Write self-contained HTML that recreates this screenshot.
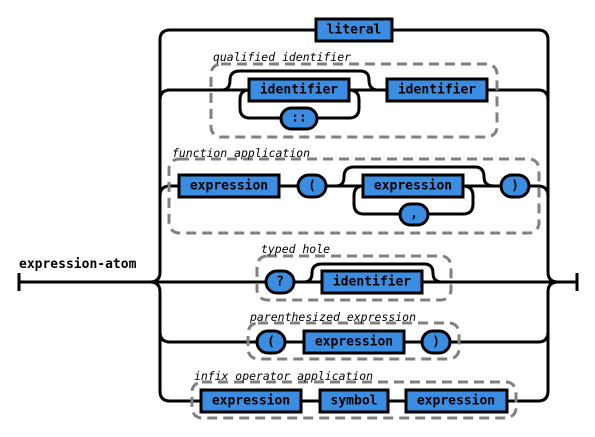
<!DOCTYPE html>
<html><head><meta charset="utf-8"><style>
html,body{margin:0;padding:0;background:#fff;}
svg{display:block}
.l{fill:none;stroke:#000;stroke-width:3}
.d{fill:none;stroke:#808080;stroke-width:3;stroke-dasharray:10 6}
.b{fill:#3a8de0;stroke:#000;stroke-width:3}
.t{font-family:"DejaVu Sans Mono","Liberation Mono",monospace;font-weight:bold;font-size:13px;text-anchor:middle;dominant-baseline:central;fill:#000}
.c{font-family:"DejaVu Sans Mono","Liberation Mono",monospace;font-style:italic;font-size:11.5px;fill:#000}
</style></head><body>
<svg width="595" height="437" viewBox="0 0 595 437">
<path class="l" d="M19 273V291M19 282H577M577 273V291"/>
<path class="l" d="M150 282Q160 282 160 272V40Q160 30 170 30H538Q548 30 548 40V272Q548 282 558 282"/>
<path class="l" d="M150 282Q160 282 160 292V391Q160 401 170 401H538Q548 401 548 391V292Q548 282 558 282"/>
<path class="l" d="M160 100Q160 90 170 90H538Q548 90 548 100"/>
<path class="l" d="M160 196Q160 186 170 186H538Q548 186 548 196"/>
<path class="l" d="M160 332Q160 342 170 342H538Q548 342 548 332"/>
<path class="l" d="M222 90Q230 90 230 80Q230 71 240 71H360Q369 71 369 80Q369 90 378 90"/>
<path class="l" d="M249 90Q240 90 240 100V108Q240 118 250 118H349Q359 118 359 108V100Q359 90 349 90"/>
<path class="l" d="M336 186Q344 186 344 177Q344 167 354 167H475Q484 167 484 177Q484 186 494 186"/>
<path class="l" d="M363 186Q354 186 354 196V204Q354 214 364 214H463Q473 214 473 204V196Q473 186 463 186"/>
<path class="l" d="M304 282Q312 282 312 273Q312 264 322 264H424Q433 264 433 273Q433 282 442 282"/>
<rect class="d" x="211" y="64" width="286" height="73" rx="10"/>
<rect class="d" x="169" y="159" width="370" height="74" rx="10"/>
<rect class="d" x="257" y="256" width="194" height="44" rx="10"/>
<rect class="d" x="248" y="323" width="211" height="36" rx="10"/>
<rect class="d" x="192" y="382" width="324" height="36" rx="10"/>
<text class="c" x="213" y="61" textLength="138" lengthAdjust="spacingAndGlyphs">qualified identifier</text>
<text class="c" x="172" y="157" textLength="138" lengthAdjust="spacingAndGlyphs">function application</text>
<text class="c" x="261" y="253" textLength="69" lengthAdjust="spacingAndGlyphs">typed hole</text>
<text class="c" x="250" y="321" textLength="166" lengthAdjust="spacingAndGlyphs">parenthesized expression</text>
<text class="c" x="194" y="380" textLength="179" lengthAdjust="spacingAndGlyphs">infix operator application</text>
<text x="19" y="268" style="font-family:'DejaVu Sans Mono','Liberation Mono',monospace;font-weight:bold;font-size:13px">expression-atom</text>
<rect class="b" x="316" y="19" width="76" height="22"/><text class="t" x="354" y="30">literal</text>
<rect class="b" x="249" y="79" width="100" height="22"/><text class="t" x="299" y="90">identifier</text>
<rect class="b" x="387" y="79" width="100" height="22"/><text class="t" x="437" y="90">identifier</text>
<rect class="b" x="281" y="108" width="36" height="21" rx="10.5"/><text class="t" x="299" y="118">::</text>
<rect class="b" x="179" y="175" width="100" height="22"/><text class="t" x="229" y="186">expression</text>
<rect class="b" x="298" y="175" width="28" height="22" rx="11"/><text class="t" x="312" y="186">(</text>
<rect class="b" x="363" y="175" width="100" height="22"/><text class="t" x="413" y="186">expression</text>
<rect class="b" x="400" y="204" width="28" height="21" rx="10.5"/><text class="t" x="414" y="214">,</text>
<rect class="b" x="501" y="175" width="28" height="22" rx="11"/><text class="t" x="515" y="186">)</text>
<rect class="b" x="266" y="271" width="28" height="22" rx="11"/><text class="t" x="280" y="282">?</text>
<rect class="b" x="322" y="271" width="100" height="22"/><text class="t" x="372" y="282">identifier</text>
<rect class="b" x="257" y="331" width="28" height="22" rx="11"/><text class="t" x="271" y="342">(</text>
<rect class="b" x="304" y="331" width="100" height="22"/><text class="t" x="354" y="342">expression</text>
<rect class="b" x="422" y="331" width="28" height="22" rx="11"/><text class="t" x="436" y="342">)</text>
<rect class="b" x="201" y="390" width="100" height="22"/><text class="t" x="251" y="401">expression</text>
<rect class="b" x="320" y="390" width="68" height="22"/><text class="t" x="354" y="401">symbol</text>
<rect class="b" x="406" y="390" width="101" height="22"/><text class="t" x="456" y="401">expression</text>
</svg>
</body></html>
